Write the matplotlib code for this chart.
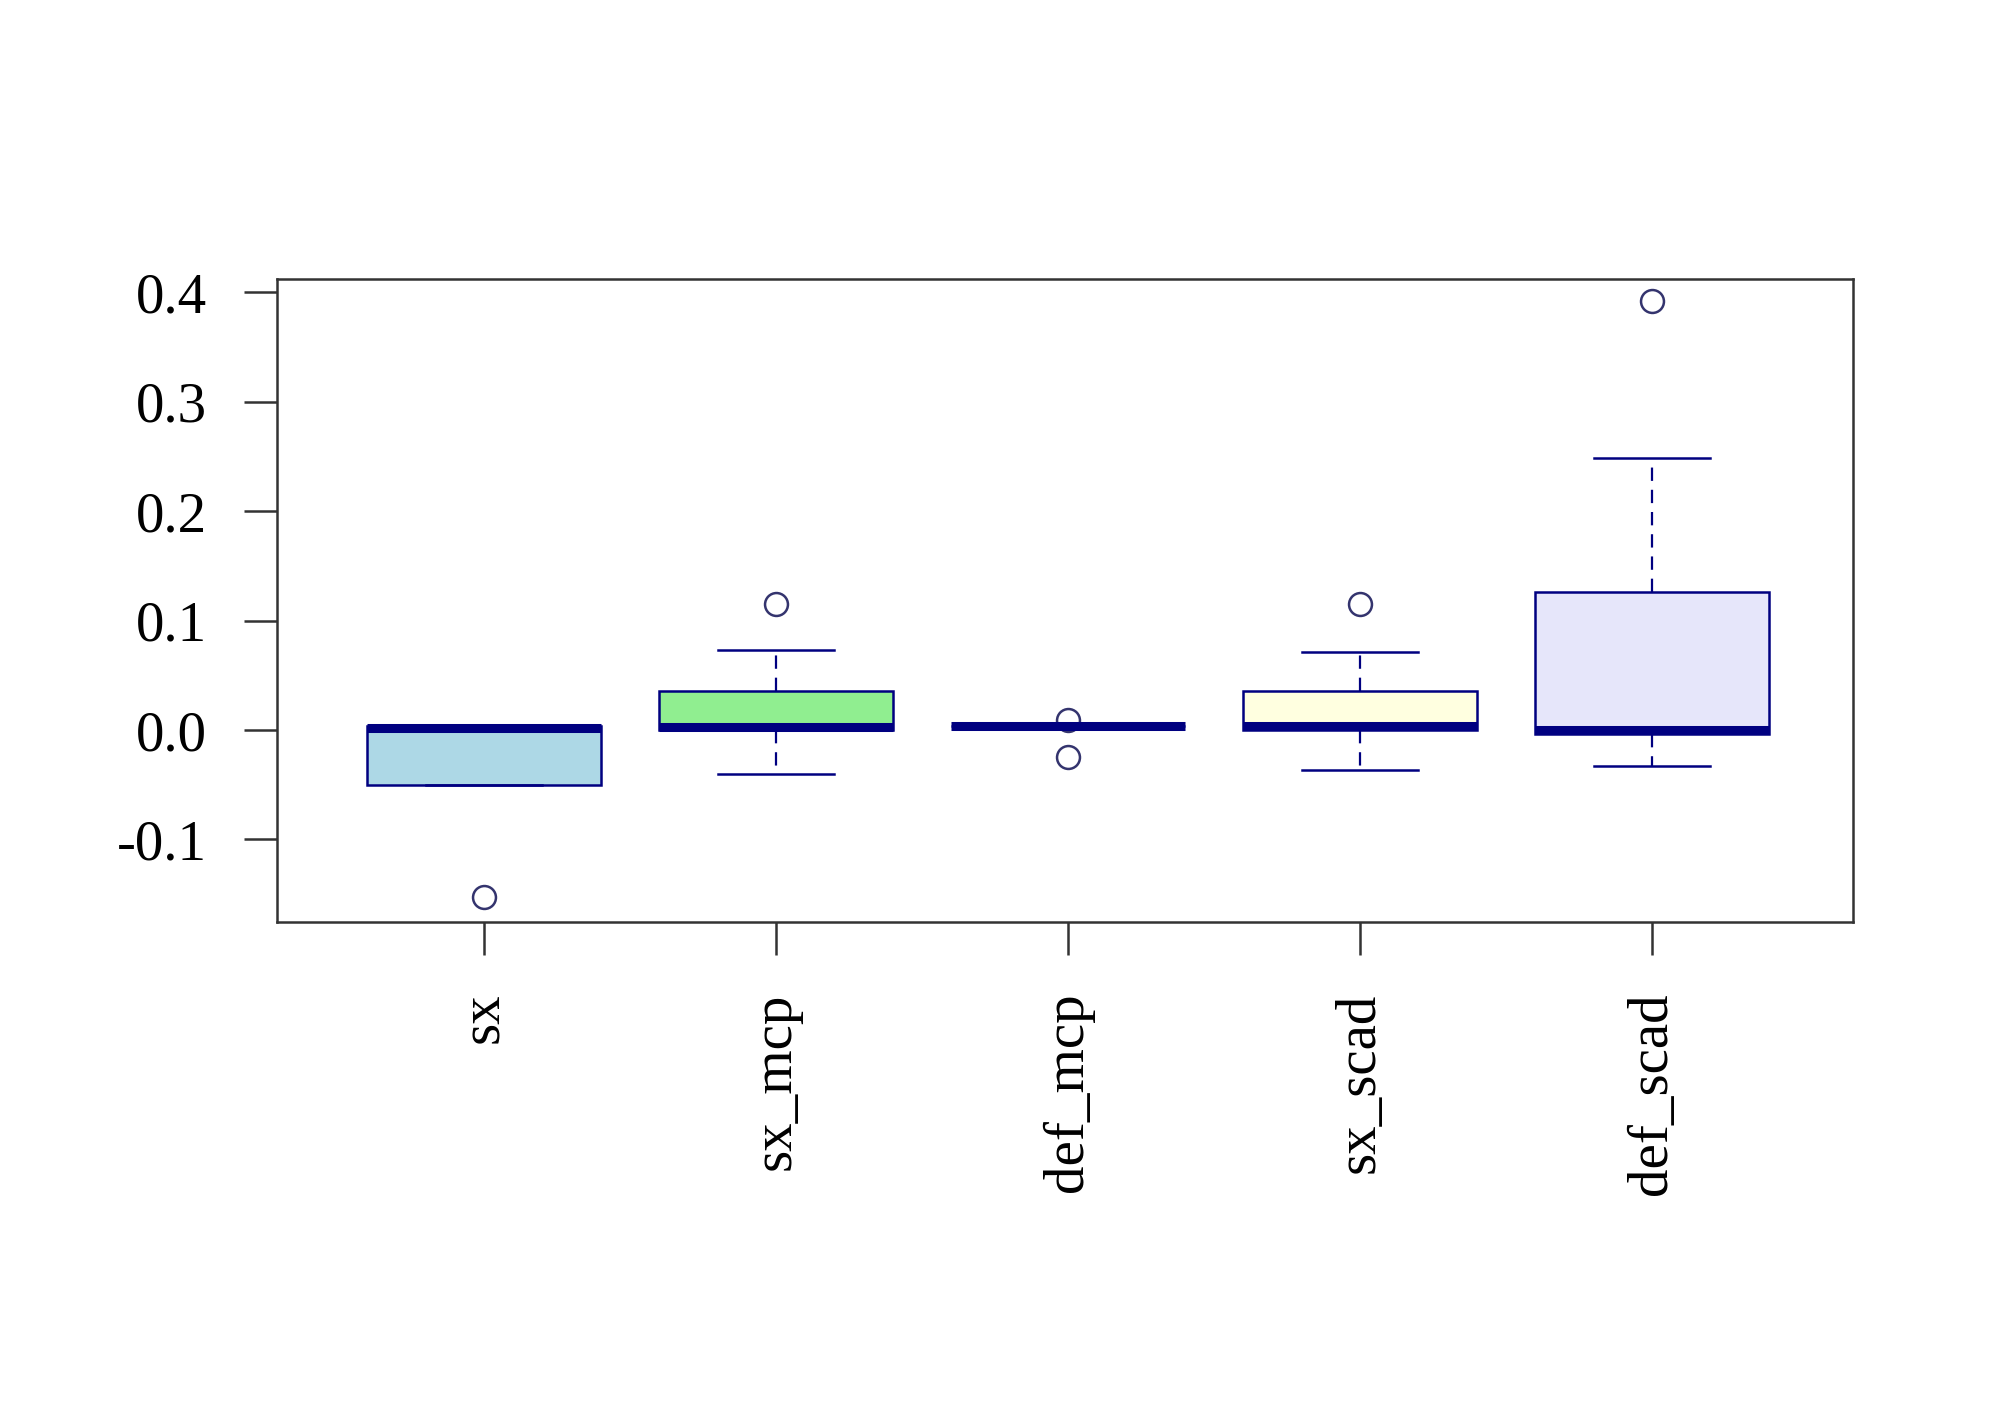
import numpy as np
import matplotlib
matplotlib.use('Agg')
import matplotlib.pyplot as plt

labels = ['sx', 'sx_mcp', 'def_mcp', 'sx_scad', 'def_scad']
q1 = [-0.050, 0.000, 0.004, 0.000, -0.004]
med = [0.002, 0.003, 0.004, 0.004, 0.000]
q3 = [0.004, 0.036, 0.004, 0.036, 0.126]
whislo = [-0.050, -0.040, 0.004, -0.037, -0.033]
whishi = [0.004, 0.073, 0.004, 0.071, 0.249]
fliers = [[-0.153], [0.115], [0.0095, -0.0245], [0.115], [0.392]]
fills = ['#ADD8E6', '#90EE90', '#FFFFFF', '#FFFFE0', '#E6E6FA']
yticks = [-0.1, 0.0, 0.1, 0.2, 0.3, 0.4]

navy = '#000080'

plt.rcParams['font.family'] = ['Liberation Serif', 'DejaVu Serif']

fig = plt.figure(figsize=(20, 14.06), dpi=100)
ax = fig.add_axes([0.1384, 0.3442, 0.9267 - 0.1384, 0.8016 - 0.3442])

stats = []
for i in range(len(labels)):
    stats.append({'label': labels[i], 'q1': q1[i], 'med': med[i], 'q3': q3[i],
                  'whislo': whislo[i], 'whishi': whishi[i], 'fliers': fliers[i]})

bp = ax.bxp(stats, positions=np.arange(1, 6), widths=0.8, patch_artist=True,
            showfliers=True,
            boxprops=dict(edgecolor=navy, linewidth=1.8),
            medianprops=dict(color=navy, linewidth=6.5, solid_capstyle='butt'),
            whiskerprops=dict(color=navy, linewidth=1.6, linestyle=(0, (6, 4))),
            capprops=dict(color=navy, linewidth=1.8),
            flierprops=dict(marker='o', markersize=16.5, markerfacecolor='none',
                            markeredgecolor='#34346e', markeredgewidth=1.8))
for patch, c in zip(bp['boxes'], fills):
    patch.set_facecolor(c)
for cap in bp['caps']:
    m = cap.get_xdata().mean()
    cap.set_xdata([m - 0.2, m + 0.2])

ax.set_xlim(0.29, 5.69)
ax.set_ylim(-0.1755, 0.4122)
ax.set_yticks(yticks)
ax.set_yticklabels(['%.1f' % v for v in yticks])
ax.set_xticks(np.arange(1, 6))
ax.set_xticklabels(labels, rotation=90)

for s in ax.spines.values():
    s.set_color('#333333')
    s.set_linewidth(1.8)
ax.tick_params(axis='both', length=23.5, width=1.8, color='#333333',
               labelsize=41, pad=27)

fig.savefig('out.png', dpi=100, facecolor='white')
